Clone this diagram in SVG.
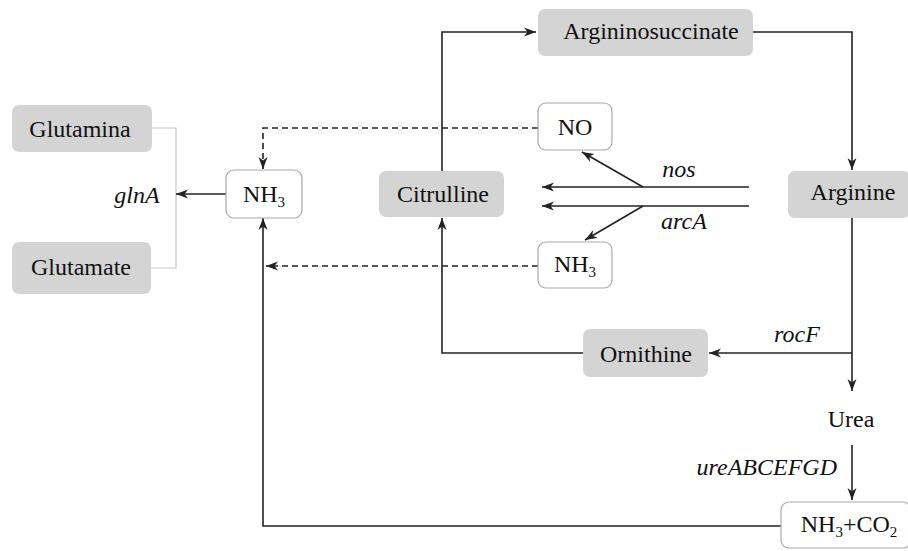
<svg xmlns="http://www.w3.org/2000/svg" width="908" height="551" viewBox="0 0 908 551">
<style>
text{font-family:'Liberation Serif',Tinos,'Times New Roman',Times,'DejaVu Serif',serif;font-size:24px;fill:#111;text-anchor:middle}
.it{font-style:italic}
.sub{font-size:15px}
.g{fill:#d4d4d4;stroke:none}
.w{fill:#fff;stroke:#aaa;stroke-width:1.2}
.c{fill:none;stroke:#222;stroke-width:1.6}
.d{fill:none;stroke:#222;stroke-width:1.6;stroke-dasharray:6 4}
.br{fill:none;stroke:#c8c8c8;stroke-width:1.2}
</style>
<defs>
<marker id="a" viewBox="0 -5 12 10" markerWidth="12" markerHeight="10" refX="12" refY="0" orient="auto" markerUnits="userSpaceOnUse">
<path d="M0,-4.5 L12,0 L0,4.5 L3.5,0 z" fill="#222"/>
</marker>
</defs>
<rect width="908" height="551" fill="#fff"/>
<g id="connectors">
<path class="br" d="M152,128 H176 V268 H150"/>
<path class="c" d="M442,171 V32 H536" marker-end="url(#a)"/>
<path class="c" d="M753,32 H852 V170" marker-end="url(#a)"/>
<path class="c" d="M852,218 V391" marker-end="url(#a)"/>
<path class="c" d="M852,353 H709" marker-end="url(#a)"/>
<path class="c" d="M583,353 H442 V218" marker-end="url(#a)"/>
<path class="c" d="M852,445 V500" marker-end="url(#a)"/>
<path class="c" d="M781,526 H263 V218" marker-end="url(#a)"/>
<path class="c" d="M749,187 H542" marker-end="url(#a)"/>
<path class="c" d="M643,187 L582,152" marker-end="url(#a)"/>
<path class="c" d="M749,206 H542" marker-end="url(#a)"/>
<path class="c" d="M643,206 L585,240" marker-end="url(#a)"/>
<path class="d" d="M538,128 H263 V169" marker-end="url(#a)"/>
<path class="d" d="M538,266 H266" marker-end="url(#a)"/>
<path class="c" d="M226,194 H176" marker-end="url(#a)"/>
</g>
<g id="glutamina"><rect class="g" x="12" y="105" width="140" height="47" rx="7"/><text x="80" y="137">Glutamina</text></g>
<g id="glutamate"><rect class="g" x="12" y="242" width="139" height="52" rx="7"/><text x="81" y="275">Glutamate</text></g>
<g id="glnA"><text class="it" x="137" y="203">glnA</text></g>
<g id="nh3-left"><rect class="w" x="226" y="170" width="76" height="48" rx="8"/><text x="264" y="202">NH<tspan class="sub" dy="5">3</tspan></text></g>
<g id="argininosuccinate"><rect class="g" x="538" y="9" width="215" height="47" rx="7"/><text x="651" y="39">Argininosuccinate</text></g>
<g id="no"><rect class="w" x="538" y="103" width="74" height="47" rx="8"/><text x="575" y="135">NO</text></g>
<g id="citrulline"><rect class="g" x="379" y="171" width="125" height="46" rx="7"/><text x="443" y="202">Citrulline</text></g>
<g id="nh3-mid"><rect class="w" x="538" y="242" width="74" height="46" rx="8"/><text x="575" y="272">NH<tspan class="sub" dy="5">3</tspan></text></g>
<g id="nos"><text class="it" x="679" y="177">nos</text></g>
<g id="arcA"><text class="it" x="684" y="229">arcA</text></g>
<g id="arginine"><rect class="g" x="788" y="171" width="122" height="47" rx="7"/><text x="853" y="200">Arginine</text></g>
<g id="ornithine"><rect class="g" x="583" y="329" width="125" height="48" rx="7"/><text x="646" y="362">Ornithine</text></g>
<g id="rocF"><text class="it" x="797" y="342">rocF</text></g>
<g id="urea"><text x="851" y="427">Urea</text></g>
<g id="ure"><text class="it" x="837" y="475" style="text-anchor:end">ureABCEFGD</text></g>
<g id="nh3co2"><rect class="w" x="781" y="502" width="130" height="46" rx="8"/><text x="849" y="532">NH<tspan class="sub" dy="5">3</tspan><tspan dy="-5">+CO</tspan><tspan class="sub" dy="5">2</tspan></text></g>
</svg>
